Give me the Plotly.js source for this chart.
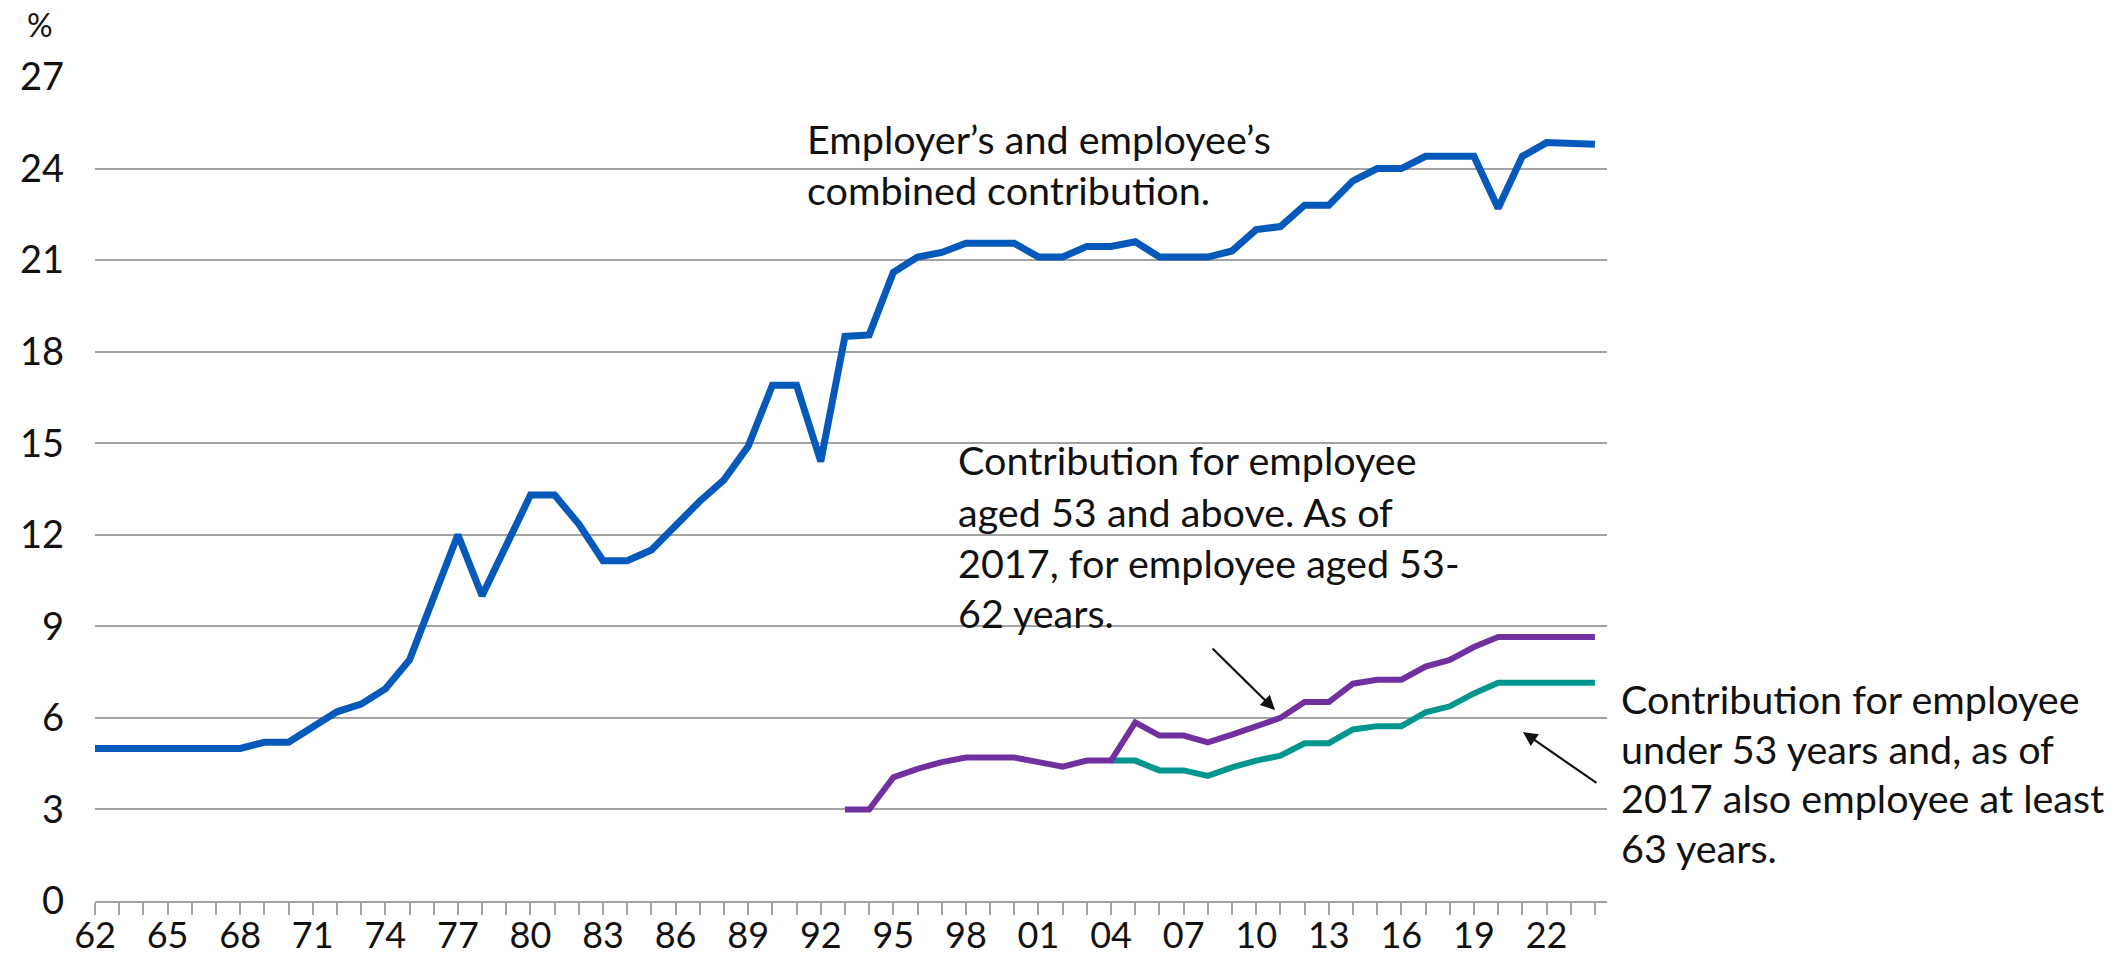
<!DOCTYPE html>
<html><head><meta charset="utf-8">
<script src="https://cdn.plot.ly/plotly-3.0.1.min.js"></script>
<style>html,body{margin:0;padding:0;background:#fff}#chart{width:2119px;height:960px}</style>
</head><body><div id="chart"></div>
<script>
// ---- data ----
const years = [1962,1963,1964,1965,1966,1967,1968,1969,1970,1971,1972,1973,1974,1975,1976,1977,1978,1979,1980,1981,1982,1983,1984,1985,1986,1987,1988,1989,1990,1991,1992,1993,1994,1995,1996,1997,1998,1999,2000,2001,2002,2003,2004,2005,2006,2007,2008,2009,2010,2011,2012,2013,2014,2015,2016,2017,2018,2019,2020,2021,2022,2023,2024];
const combined = [5.0,5.0,5.0,5.0,5.0,5.0,5.0,5.2,5.2,5.7,6.2,6.45,6.95,7.9,9.95,12.0,10.0,11.7,13.3,13.3,12.35,11.15,11.15,11.5,12.3,13.1,13.8,14.9,16.9,16.9,14.4,18.5,18.55,20.6,21.1,21.25,21.55,21.55,21.55,21.1,21.1,21.45,21.45,21.6,21.1,21.1,21.1,21.3,22.0,22.1,22.8,22.8,23.6,24.0,24.0,24.4,24.4,24.4,22.7,24.4,24.85,24.85,24.8];
const aged53 = [null,null,null,null,null,null,null,null,null,null,null,null,null,null,null,null,null,null,null,null,null,null,null,null,null,null,null,null,null,null,null,3.0,3.0,4.05,4.33,4.55,4.7,4.7,4.7,4.55,4.4,4.6,4.6,5.85,5.42,5.42,5.2,5.45,5.75,6.0,6.52,6.52,7.12,7.25,7.25,7.68,7.9,8.32,8.65,8.65,8.65,8.65,8.65];
const under53 = [null,null,null,null,null,null,null,null,null,null,null,null,null,null,null,null,null,null,null,null,null,null,null,null,null,null,null,null,null,null,null,null,null,null,null,null,null,null,null,null,null,null,4.6,4.6,4.28,4.28,4.1,4.38,4.6,4.76,5.17,5.17,5.62,5.73,5.73,6.18,6.38,6.8,7.15,7.15,7.15,7.15,7.15];
const tickYears = [1962,1965,1968,1971,1974,1977,1980,1983,1986,1989,1992,1995,1998,2001,2004,2007,2010,2013,2016,2019,2022];
const tickLabels = ['62','65','68','71','74','77','80','83','86','89','92','95','98','01','04','07','10','13','16','19','22'];
const yTicks = [0,3,6,9,12,15,18,21,24,27];
const label1 = ['Employer’s and employee’s','combined contribution.'];
const label2 = ['Contribution for employee','aged 53 and above. As of','2017, for employee aged 53-','62 years.'];
const label3 = ['Contribution for employee','under 53 years and, as of','2017 also employee at least','63 years.'];

// ---- layout geometry (pixels) ----
const W=2119,H=960,L=95,R=512,T=77,B=59;
const PW=W-L-R, PH=H-T-B;
const px = x => (x-L)/PW;
const py = y => (H-B-y)/PH;
const FONT = 'Lato, "Open Sans", sans-serif';
const TXT = '#111111';
const GRID = '#a3a3a3';

const traces = [
  {x:years,y:combined,type:'scatter',mode:'lines',line:{color:'#0559BA',width:7},hoverinfo:'skip'},
  {x:years,y:under53,type:'scatter',mode:'lines',line:{color:'#00968F',width:6},connectgaps:false,hoverinfo:'skip'},
  {x:years,y:aged53,type:'scatter',mode:'lines',line:{color:'#7030A0',width:6},connectgaps:false,hoverinfo:'skip'}
];

const annotations = [];
function block(lines, left, centers){
  lines.forEach((t,i)=>annotations.push({text:t,xref:'paper',yref:'paper',x:px(left),y:py(centers[i]),
    xanchor:'left',yanchor:'middle',showarrow:false,align:'left',font:{family:FONT,size:39.5,color:TXT}}));
}
block(label1, 805, [138,189]);
block(label2, 956, [459,511,562,612]);
block(label3, 1619, [698,748,797,847]);
annotations.push({text:'%',xref:'paper',yref:'paper',x:px(40),y:py(24),xanchor:'center',yanchor:'middle',showarrow:false,font:{family:FONT,size:32,color:TXT}});
// arrows
annotations.push({text:'',xref:'paper',yref:'paper',x:px(1275),y:py(710),ax:-64,ay:-63,showarrow:true,arrowhead:2,arrowsize:1.3,arrowwidth:2.2,arrowcolor:'#111',standoff:0});
annotations.push({text:'',xref:'paper',yref:'paper',x:px(1523),y:py(732),ax:75,ay:52,showarrow:true,arrowhead:2,arrowsize:1.3,arrowwidth:2.2,arrowcolor:'#111',standoff:0});

const shapes = [
  {type:'rect',xref:'paper',yref:'paper',x0:px(797),x1:px(1283),y0:py(112),y1:py(215),fillcolor:'#fff',line:{width:0},layer:'between'},
  {type:'rect',xref:'paper',yref:'paper',x0:px(945),x1:px(1472),y0:py(430),y1:py(640),fillcolor:'#fff',line:{width:0},layer:'between'}
];

const layout = {
  width:W,height:H,margin:{l:L,r:R,t:T,b:B,pad:0},
  paper_bgcolor:'#fff',plot_bgcolor:'#fff',showlegend:false,
  font:{family:FONT,color:TXT},
  xaxis:{range:[1962,2024.5],tickmode:'array',tickvals:tickYears,ticktext:tickLabels,
    ticks:'outside',ticklen:12,tickwidth:2,tickcolor:GRID,showline:true,linecolor:GRID,linewidth:2,
    showgrid:false,zeroline:false,tickfont:{family:FONT,size:36,color:TXT},ticklabelstandoff:-10,
    minor:{tickmode:'linear',tick0:1962,dtick:1,ticks:'outside',ticklen:12,tickwidth:2,tickcolor:GRID,showgrid:false}},
  yaxis:{range:[0,27],tickmode:'array',tickvals:yTicks,ticks:'',showline:false,zeroline:false,
    showgrid:true,gridcolor:GRID,gridwidth:2,tickfont:{family:FONT,size:38,color:TXT},ticklabelstandoff:30},
  annotations:annotations,shapes:shapes
};
Plotly.newPlot('chart',traces,layout,{staticPlot:true,displayModeBar:false});
</script></body></html>
